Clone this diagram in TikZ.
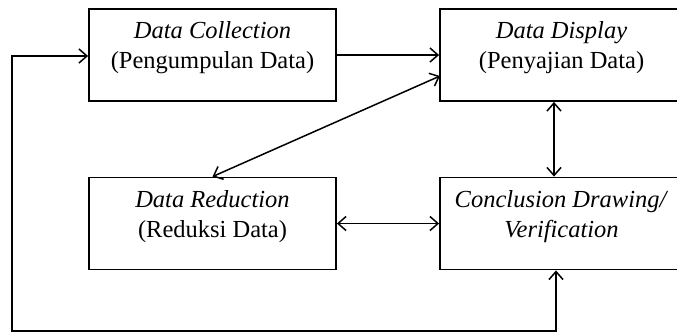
\documentclass[tikz,border=0pt]{standalone}
\usepackage{fontspec}
\setmainfont{Liberation Serif}
\usetikzlibrary{arrows.meta}
\tikzset{
  box/.style={draw, line width=1.8pt, minimum width=247pt, minimum height=92pt, inner sep=0pt},
  label text/.style={align=center, inner sep=0pt, anchor=north, font=\fontsize{24.5}{30}\selectfont},
  conn/.style={line width=1.5pt, {Straight Barb[length=8pt,width=14pt]}-{Straight Barb[length=8pt,width=14pt]}},
  oneway/.style={line width=1.5pt, -{Straight Barb[length=8pt,width=14pt]}}
}
\begin{document}
\begin{tikzpicture}[x=1pt,y=-1pt]
\useasboundingbox (0,0) rectangle (677,333);
\clip (0,0) rectangle (677,333);
\node[box] (dc) at (212.5,55) {};
\node[box, minimum width=243pt] (dd) at (561.5,55) {};
\node[box] (dr) at (212.5,223.5) {};
\node[box, minimum width=243pt] (cd) at (561.5,223.5) {};
\node[label text] (tdc) at (212.5,21) {\textit{Data Collection}\\(Pengumpulan Data)};
\node[label text] (tdd) at (561.5,21) {\textit{Data Display}\\(Penyajian Data)};
\node[label text] (tdr) at (212.5,190.5) {\textit{Data Reduction}\\(Reduksi Data)};
\node[label text] (tcd) at (561.5,190.5) {\textit{Conclusion Drawing/}\\\textit{Verification}};
\coordinate (c1) at (556,331);
\coordinate (c2) at (12,331);
\coordinate (c3) at (12,56);
\draw[oneway] (dc.east) -- (dd.west);
\draw[conn] (dr.north) -- (440,76) coordinate (ddl);
\draw[conn] (dd.south -| 554,0) -- (cd.north -| 554,0);
\draw[conn] (dr.east) -- (cd.west);
\draw[conn] (cd.south -| c1) -- (c1) -- (c2) -- (c3) -- (c3 -| dc.west);
\end{tikzpicture}
\end{document}
